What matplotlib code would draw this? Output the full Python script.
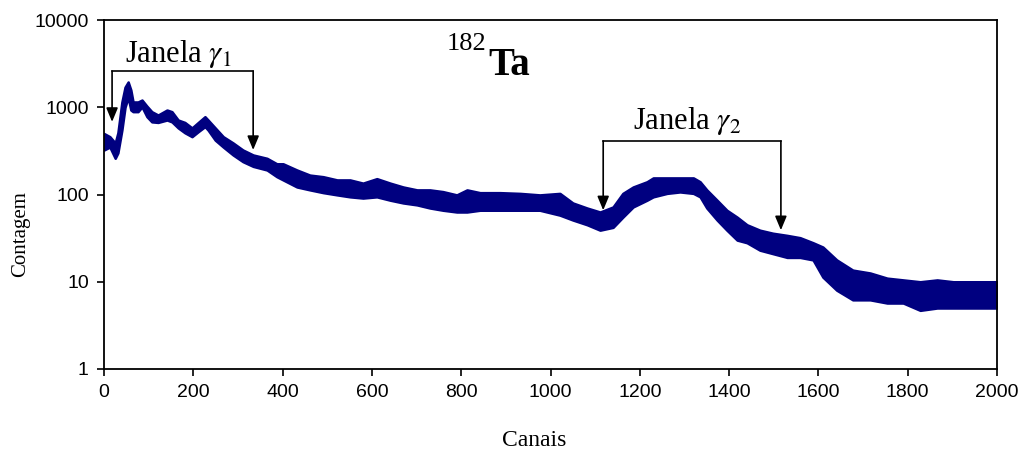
import numpy as np
import matplotlib.pyplot as plt

# spectrum band: channel, lower and upper edge of the points
canais = [0, 13, 25, 31, 40, 47, 54, 60, 65, 76, 85, 96, 107, 121, 141, 152, 166,
          181, 197, 211, 226, 233, 249, 267, 289, 311, 334, 365, 387, 401, 432, 461,
          491, 522, 551, 580, 611, 641, 670, 701, 730, 759, 790, 813, 842, 887, 932,
          976, 1021, 1050, 1082, 1111, 1140, 1162, 1185, 1216, 1230, 1261, 1290, 1320,
          1335, 1350, 1373, 1395, 1418, 1440, 1469, 1498, 1530, 1559, 1588, 1610, 1641,
          1677, 1716, 1754, 1790, 1828, 1866, 1902, 1940, 1978, 2000]
cont_min = [324, 350, 260, 300, 550, 1000, 1300, 930, 890, 890, 1010, 780, 680, 670,
            714, 680, 580, 510, 460, 525, 600, 548, 420, 350, 284, 238, 210, 191, 160,
            147, 122, 113, 105, 99, 94, 91, 94, 86, 80, 76, 70, 66, 63, 63, 66, 66, 66,
            66, 58, 51, 45, 39, 42, 55, 72, 86, 94, 103, 107, 103, 94, 70, 51, 39, 30,
            28, 23, 21, 19, 19, 17.8, 11.3, 8, 6.2, 6.2, 5.7, 5.7, 4.7, 5, 5, 5, 5, 5]
cont_max = [500, 460, 390, 510, 1150, 1700, 1950, 1580, 1150, 1150, 1210, 1030, 890,
            815, 930, 890, 714, 670, 580, 670, 780, 714, 580, 460, 390, 324, 284, 260,
            225, 225, 191, 167, 160, 147, 147, 135, 152, 135, 122, 113, 113, 108, 99,
            113, 105, 105, 103, 99, 103, 80, 70, 63, 72, 103, 122, 140, 155, 155, 155,
            155, 140, 113, 86, 66, 55, 45, 39, 36, 34, 32, 28, 25, 17.8, 13.6, 12.6, 11,
            10.5, 10, 10.5, 10, 10, 10, 10]

# energy windows: (left channel, right channel, bracket height, left tip, right tip)
janela1 = (18, 334, 2600, 680, 324)
janela2 = (1118, 1516, 410, 66, 39)

x_ticks = [0, 200, 400, 600, 800, 1000, 1200, 1400, 1600, 1800, 2000]
y_ticks = [1, 10, 100, 1000, 10000]

plt.rcParams['mathtext.fontset'] = 'stix'

fig = plt.figure(figsize=(10.19, 4.59), dpi=100)
ax = fig.add_axes([0.1021, 0.1961, 0.8763, 0.7603])

ax.fill_between(canais, cont_min, cont_max, color='#000080', lw=1.8,
                edgecolor='#000080')

ax.set_yscale('log')
ax.set_xlim(0, 2000)
ax.set_ylim(1, 10000)
ax.set_xticks(x_ticks)
ax.set_yticks(y_ticks)
ax.set_xticklabels([str(t) for t in x_ticks])
ax.set_yticklabels([str(t) for t in y_ticks])
ax.minorticks_off()
ax.tick_params(direction='out', length=5, width=1.2, labelsize=14, pad=6)
for lab in ax.get_xticklabels() + ax.get_yticklabels():
    lab.set_fontfamily('Liberation Sans')
for sp in ax.spines.values():
    sp.set_linewidth(1.3)

# brackets with arrows
for (xa, xb, yh, ta, tb) in [janela1, janela2]:
    ax.plot([xa, xb], [yh, yh], color='black', lw=1.2)
    for xx, tip in [(xa, ta), (xb, tb)]:
        ax.annotate('', xy=(xx, tip), xytext=(xx, yh),
                    arrowprops=dict(arrowstyle='-|>,head_length=0.6,head_width=0.25',
                                    color='black', lw=1.2, mutation_scale=14,
                                    shrinkA=0, shrinkB=0))

ax.text(47, 3300, r'Janela $\gamma_1$', family='Liberation Serif', fontsize=22,
        va='baseline')
ax.text(1185, 563, r'Janela $\gamma_2$', family='Liberation Serif', fontsize=22,
        va='baseline')
ax.text(768, 4500, '182', family='Liberation Serif', fontsize=19, va='baseline')
ax.text(860, 2340, 'Ta', family='Liberation Serif', fontsize=28, weight='bold',
        va='baseline')

fig.text(0.524, 0.04, 'Canais', family='Liberation Serif', fontsize=17,
         ha='center', va='center')
fig.text(0.02, 0.49, 'Contagem', family='Liberation Serif', fontsize=15,
         ha='center', va='center', rotation=90)

fig.savefig('out.png', dpi=100)
